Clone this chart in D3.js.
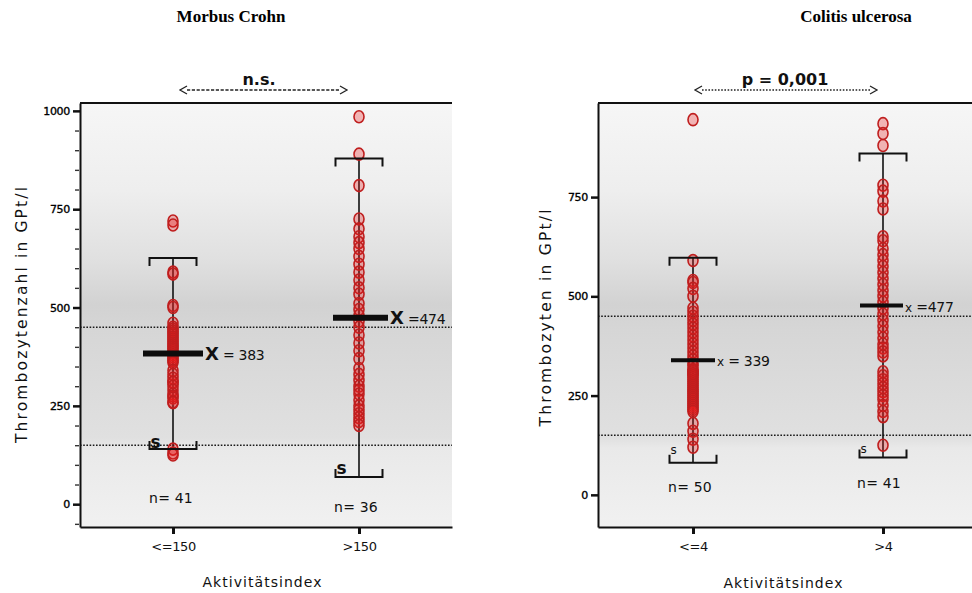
<!DOCTYPE html>
<html>
<head>
<meta charset="utf-8">
<script src="https://cdn.jsdelivr.net/npm/d3@7"></script>
<style>
  html, body { margin: 0; padding: 0; background: #ffffff; }
  svg { display: block; }
</style>
</head>
<body>
<script>
// Platelet counts (GPt/l) grouped by disease activity index

// Morbus Crohn
const crohnGroups = ["<=150", ">150"];
const crohnLowActivity = [
  720, 710, 590, 585, 505, 500, 460, 450, 445, 440, 435, 430, 425, 420, 415, 410,
  405, 400, 395, 390, 385, 380, 375, 370, 365, 360, 340, 330, 320, 310, 310, 300,
  290, 280, 275, 270, 258, 260, 140, 130, 125
];
const crohnHighActivity = [
  985, 890, 810, 725, 700, 680, 665, 650, 630, 610, 590, 570, 550, 534, 510, 495,
  480, 465, 450, 430, 410, 390, 370, 345, 330, 315, 300, 290, 280, 265, 250, 240,
  230, 220, 210, 200
];
const crohnMeans = [383, 474];
const crohnSpread = [243, 405];
const crohnTicks = [0, 250, 500, 750, 1000];

// Colitis ulcerosa
const colitisGroups = ["<=4", ">4"];
const colitisLowActivity = [
  945, 590, 540, 535, 520, 500, 470, 460, 450, 440, 430, 420, 410, 400, 390, 380,
  370, 360, 350, 340, 330, 325, 315, 305, 315, 310, 305, 300, 295, 290, 285, 280,
  275, 270, 265, 260, 255, 250, 245, 240, 235, 230, 225, 220, 215, 210, 180, 160,
  140, 120
];
const colitisHighActivity = [
  935, 910, 880, 780, 765, 740, 720, 650, 640, 620, 605, 590, 575, 560, 545, 530,
  515, 500, 485, 470, 455, 440, 425, 410, 395, 380, 370, 360, 350, 310, 300, 290,
  280, 270, 260, 250, 240, 225, 210, 197, 125
];
const colitisMeans = [339, 477];
const colitisSpread = [258, 383];
const colitisTicks = [0, 250, 500, 750];

// Normal platelet range
const referenceRange = [150, 450];

const panelTitles = ["Morbus Crohn", "Colitis ulcerosa"];
const yAxisTitles = ["Thrombozytenzahl in GPt/l", "Thrombozyten in GPt/l"];
const xAxisTitle = "Aktivitätsindex";
const significanceLabels = ["n.s.", "p = 0,001"];

const W = 972, H = 593;
const TOP = 103, BOTTOM = 527;
const SANS = "'DejaVu Sans', Verdana, sans-serif";
const SERIF = "'Liberation Serif', 'Times New Roman', Times, serif";

const svg = d3.select("body").append("svg")
  .attr("width", W).attr("height", H)
  .attr("viewBox", `0 0 ${W} ${H}`);

svg.append("rect").attr("width", W).attr("height", H).attr("fill", "#ffffff");

// shaded plot background, darkest just above the upper reference line
const defs = svg.append("defs");
const grad = defs.append("linearGradient")
  .attr("id", "plotBg")
  .attr("gradientUnits", "userSpaceOnUse")
  .attr("x1", 0).attr("x2", 0).attr("y1", TOP).attr("y2", BOTTOM);
[
  [TOP, "#f6f6f6"], [190, "#eeeeee"], [260, "#e0e0e0"], [305, "#d2d2d2"],
  [330, "#d6d6d6"], [438, "#e0e0e0"], [448, "#e9e9e9"], [BOTTOM, "#f1f1f1"]
].forEach(([yy, c]) => grad.append("stop")
  .attr("offset", ((yy - TOP) / (BOTTOM - TOP) * 100).toFixed(2) + "%")
  .attr("stop-color", c));

const panels = [
  {
    title: panelTitles[0], titleX: 231,
    groups: crohnGroups,
    series: [crohnLowActivity, crohnHighActivity],
    means: crohnMeans, spread: crohnSpread, ticks: crohnTicks,
    minorTicks: d3.range(-50, 1001, 50).filter(v => v % 250 !== 0),
    yDomain: [-58, 1020], xRange: [80, 452],
    yTitle: yAxisTitles[0], yTitleX: 22, yTitleY: 315, yTitleLen: 256,
    xTitleX: 262, xTitleY: 587,
    sig: significanceLabels[0], sigX: 259, arrow: [180, 347], arrowDash: "3.2,1.6",
    big: true,
    meanBar: [[-30, 30], [-26, 29]], barWidth: 6,
    meanLabelGap: [" = ", " ="],
    nY: [503, 512], nShift: [-2, -3],
    sOffset: [-1, -3]
  },
  {
    title: panelTitles[1], titleX: 856,
    groups: colitisGroups,
    series: [colitisLowActivity, colitisHighActivity],
    means: colitisMeans, spread: colitisSpread, ticks: colitisTicks,
    minorTicks: [],
    yDomain: [-81, 987], xRange: [598, 978],
    yTitle: yAxisTitles[1], yTitleX: 546, yTitleY: 318, yTitleLen: 217,
    xTitleX: 783, xTitleY: 588,
    sig: significanceLabels[1], sigX: 785, arrow: [695, 877], arrowDash: "1.6,1.6",
    big: false,
    meanBar: [[-22, 22], [-23, 20]], barWidth: 4,
    meanLabelGap: [" = ", " ="],
    nY: [492, 488], nShift: [-3, -4],
    sOffset: [-9, -5]
  }
];

panels.forEach(p => {
  const y = d3.scaleLinear().domain(p.yDomain).range([BOTTOM, TOP]);
  const x = d3.scalePoint().domain(p.groups).range(p.xRange).padding(0.5);
  const [x0, x1] = p.xRange;
  const g = svg.append("g");

  // panel title
  svg.append("text")
    .attr("x", p.titleX).attr("y", 22)
    .attr("text-anchor", "middle")
    .attr("font-family", SERIF).attr("font-weight", "bold").attr("font-size", 17)
    .text(p.title);

  // plot area
  g.append("rect")
    .attr("x", x0).attr("y", TOP)
    .attr("width", x1 - x0).attr("height", BOTTOM - TOP)
    .attr("fill", "url(#plotBg)");

  // reference range lines
  referenceRange.forEach(v => {
    g.append("line")
      .attr("x1", x0).attr("x2", x1)
      .attr("y1", y(v)).attr("y2", y(v))
      .attr("stroke", "#1a1a1a").attr("stroke-width", 1.6)
      .attr("stroke-dasharray", "1.6,1.6");
  });

  // frame top
  g.append("line")
    .attr("x1", x0).attr("x2", x1).attr("y1", TOP).attr("y2", TOP)
    .attr("stroke", "#111").attr("stroke-width", 2);

  // y axis
  const yAxis = d3.axisLeft(y).tickValues(p.ticks).tickFormat(d3.format("d"))
    .tickSize(7).tickSizeOuter(0).tickPadding(3);
  const ya = g.append("g").attr("transform", `translate(${x0},0)`).call(yAxis);
  ya.select(".domain").attr("stroke", "#111").attr("stroke-width", 2);
  ya.selectAll(".tick line").attr("stroke", "#111").attr("stroke-width", 2.5);
  ya.selectAll(".tick text")
    .attr("font-family", SANS).attr("font-size", 11).attr("fill", "#000")
    .attr("stroke", "#000").attr("stroke-width", 0.35)
    .attr("letter-spacing", -0.3);

  if (p.minorTicks.length) {
    const minor = d3.axisLeft(y).tickValues(p.minorTicks).tickSize(4).tickSizeOuter(0).tickFormat("");
    const ma = g.append("g").attr("transform", `translate(${x0 - 1},0)`).call(minor);
    ma.select(".domain").remove();
    ma.selectAll(".tick line").attr("stroke", "#333").attr("stroke-width", 1.4);
  }

  // x axis
  const xAxis = d3.axisBottom(x).tickSize(7).tickSizeOuter(0).tickPadding(8);
  const xa = g.append("g").attr("transform", `translate(0,${BOTTOM})`).call(xAxis);
  xa.select(".domain").attr("stroke", "#111").attr("stroke-width", 2);
  xa.selectAll(".tick line").attr("stroke", "#111").attr("stroke-width", 3);
  xa.selectAll(".tick text")
    .attr("font-family", SANS).attr("font-size", 13).attr("fill", "#111")
    .attr("letter-spacing", -0.4);

  // axis titles
  g.append("text")
    .attr("transform", `translate(${p.yTitleX},${p.yTitleY}) rotate(-90)`)
    .attr("text-anchor", "middle").attr("dy", "0.35em")
    .attr("font-family", SANS).attr("font-size", 15.5).attr("fill", "#111")
    .attr("textLength", p.yTitleLen).attr("lengthAdjust", "spacing")
    .text(p.yTitle);

  g.append("text")
    .attr("x", p.xTitleX).attr("y", p.xTitleY)
    .attr("text-anchor", "middle")
    .attr("font-family", SANS).attr("font-size", 14).attr("fill", "#111")
    .attr("textLength", 119).attr("lengthAdjust", "spacing")
    .text(xAxisTitle);

  // significance bracket
  const [a0, a1] = p.arrow;
  g.append("line")
    .attr("x1", a0 + 7).attr("x2", a1 - 7).attr("y1", 90).attr("y2", 90)
    .attr("stroke", "#222").attr("stroke-width", 1.3)
    .attr("stroke-dasharray", p.arrowDash);
  g.append("path")
    .attr("d", `M${a0 + 7},86 L${a0},90 L${a0 + 7},94 M${a1 - 7},86 L${a1},90 L${a1 - 7},94`)
    .attr("fill", "none").attr("stroke", "#222").attr("stroke-width", 1.3);
  g.append("text")
    .attr("x", p.sigX).attr("y", 85)
    .attr("text-anchor", "middle")
    .attr("font-family", SANS).attr("font-weight", "bold").attr("font-size", 16)
    .attr("fill", "#111")
    .text(p.sig);

  // groups
  p.groups.forEach((grp, i) => {
    const cx = x(grp);
    const values = p.series[i];
    const mean = p.means[i];
    const upper = mean + p.spread[i];
    const lower = mean - p.spread[i];

    // whisker line
    g.append("line")
      .attr("x1", cx).attr("x2", cx).attr("y1", y(lower)).attr("y2", y(upper))
      .attr("stroke", "#111").attr("stroke-width", 1.6);

    // individual values
    g.append("g").selectAll("ellipse").data(values).join("ellipse")
      .attr("cx", cx).attr("cy", d => y(d))
      .attr("rx", 5).attr("ry", 6)
      .attr("fill", "rgba(236,30,30,0.3)")
      .attr("stroke", "#bf1e1e").attr("stroke-width", 1.6);

    // caps
    const capW = 23.5, capH = 8;
    g.append("path")
      .attr("d", `M${cx - capW},${y(upper) + capH} V${y(upper)} H${cx + capW} V${y(upper) + capH}`)
      .attr("fill", "none").attr("stroke", "#111").attr("stroke-width", 2);
    g.append("path")
      .attr("d", `M${cx - capW},${y(lower) - capH} V${y(lower)} H${cx + capW} V${y(lower) - capH}`)
      .attr("fill", "none").attr("stroke", "#111").attr("stroke-width", 2);

    // "s" marker at the lower cap
    g.append("text")
      .attr("x", cx - capW + 1).attr("y", y(lower) + p.sOffset[i])
      .attr("font-family", SANS)
      .attr("font-weight", p.big ? "bold" : "normal")
      .attr("font-size", p.big ? 17 : 12)
      .attr("fill", "#111")
      .text("s");

    // mean bar
    const [b0, b1] = p.meanBar[i];
    g.append("line")
      .attr("x1", cx + b0).attr("x2", cx + b1).attr("y1", y(mean)).attr("y2", y(mean))
      .attr("stroke", "#0d0d0d").attr("stroke-width", p.barWidth);

    // mean label
    const lbl = g.append("text")
      .attr("x", cx + b1 + 2).attr("y", y(mean))
      .attr("dy", "0.38em")
      .attr("font-family", SANS).attr("fill", "#111");
    lbl.append("tspan")
      .attr("font-weight", p.big ? "bold" : "normal")
      .attr("font-size", p.big ? 18 : 12)
      .text(p.big ? "X" : "x");
    lbl.append("tspan")
      .attr("font-size", 14)
      .attr("letter-spacing", -0.3)
      .text(p.meanLabelGap[i] + mean);

    // group size
    g.append("text")
      .attr("x", cx + p.nShift[i]).attr("y", p.nY[i])
      .attr("text-anchor", "middle")
      .attr("font-family", SANS).attr("font-size", 14).attr("fill", "#111")
      .attr("letter-spacing", 0.2)
      .text("n= " + values.length);
  });
});
</script>
</body>
</html>
